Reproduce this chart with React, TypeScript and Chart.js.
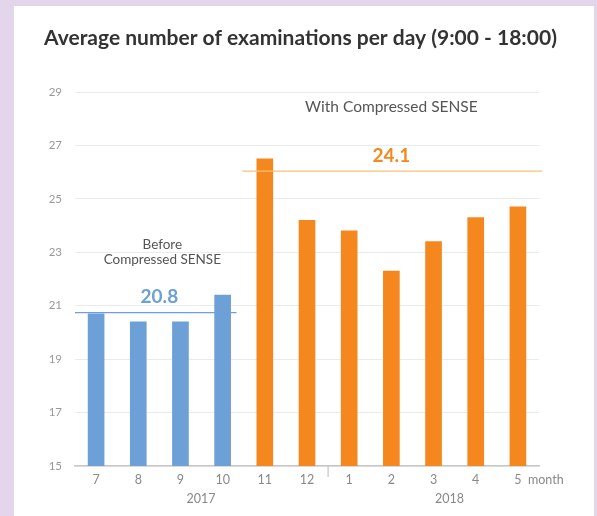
import React, { useEffect, useRef } from "react";
import { Chart, registerables } from "chart.js";

Chart.register(...registerables);

const months = ["7", "8", "9", "10", "11", "12", "1", "2", "3", "4", "5"];
const examsPerDay = [20.7, 20.4, 20.4, 21.4, 26.5, 24.2, 23.8, 22.3, 23.4, 24.3, 24.7];
const isBefore = [true, true, true, true, false, false, false, false, false, false, false];
const avgBefore = 20.8;
const avgAfter = 24.1;
const yTicks = [15, 17, 19, 21, 23, 25, 27, 29];
const years = ["2017", "2018"];

const TITLE = "Average number of examinations per day (9:00 - 18:00)";
const BLUE = "#6ca0d6";
const ORANGE = "#f5871f";
const FONT = "Lato, 'Open Sans', sans-serif";

const decorPlugin = {
  id: "decor",
  beforeDraw(chart: any) {
    const { ctx, width, height } = chart;
    ctx.save();
    ctx.fillStyle = "#e4d6ea";
    ctx.fillRect(0, 0, width, height);
    ctx.fillStyle = "#ffffff";
    ctx.fillRect(14, 6, 580, height - 6);
    ctx.restore();
  },
  afterDraw(chart: any) {
    const { ctx, chartArea } = chart;
    const x = chart.scales.x;
    const y = chart.scales.y;
    const px = (i: number) => x.getPixelForValue(0) + i * (x.getPixelForValue(1) - x.getPixelForValue(0));
    ctx.save();
    // title
    ctx.fillStyle = "#333333";
    ctx.font = `bold 21px ${FONT}`;
    ctx.textAlign = "left";
    ctx.textBaseline = "middle";
    ctx.fillText(TITLE, 44, 38);

    // average lines
    ctx.lineWidth = 1.2;
    ctx.strokeStyle = BLUE;
    ctx.beginPath();
    ctx.moveTo(chartArea.left, y.getPixelForValue(avgBefore) + 1.5);
    ctx.lineTo(px(3.33), y.getPixelForValue(avgBefore) + 1.5);
    ctx.stroke();
    ctx.strokeStyle = "#f7c173";
    ctx.beginPath();
    ctx.moveTo(px(3.47), y.getPixelForValue(26.04));
    ctx.lineTo(chartArea.right + 3, y.getPixelForValue(26.04));
    ctx.stroke();

    // average labels
    ctx.textAlign = "center";
    ctx.font = `bold 19px ${FONT}`;
    ctx.fillStyle = BLUE;
    ctx.fillText(avgBefore.toFixed(1), px(1.5), y.getPixelForValue(21.33));
    ctx.fillStyle = ORANGE;
    ctx.fillText(avgAfter.toFixed(1), px(7.0), y.getPixelForValue(26.6));

    // annotations
    ctx.fillStyle = "#555555";
    ctx.font = `13.5px ${FONT}`;
    ctx.fillText("Before", px(1.57), y.getPixelForValue(23.27));
    ctx.fillText("Compressed SENSE", px(1.57), y.getPixelForValue(22.71));
    ctx.font = `15.5px ${FONT}`;
    ctx.fillText("With Compressed SENSE", px(7.0), y.getPixelForValue(28.44));

    // year divider
    ctx.strokeStyle = "#bbbbbb";
    ctx.lineWidth = 1;
    ctx.beginPath();
    ctx.moveTo(px(5.5), chartArea.bottom);
    ctx.lineTo(px(5.5), chartArea.bottom + 11);
    ctx.stroke();

    // years + month label
    ctx.fillStyle = "#888888";
    ctx.font = `12.5px ${FONT}`;
    ctx.fillText(years[0], px(2.49), chartArea.bottom + 33);
    ctx.fillText(years[1], px(8.38), chartArea.bottom + 33);
    ctx.textAlign = "left";
    ctx.fillText("month", chartArea.right - 11, chartArea.bottom + 14);
    ctx.restore();
  },
};

export default function App() {
  const ref = useRef<HTMLCanvasElement>(null);
  useEffect(() => {
    document.body.style.margin = "0";
    const chart = new Chart(ref.current!, {
      type: "bar",
      data: {
        labels: months,
        datasets: [
          {
            data: examsPerDay,
            backgroundColor: isBefore.map((b) => (b ? BLUE : ORANGE)),
            barThickness: 16,
          },
        ],
      },
      options: {
        animation: false,
        responsive: false,
        layout: { padding: { left: 0, top: 92, right: 58, bottom: 0 } },
        plugins: { legend: { display: false }, tooltip: { enabled: false } },
        scales: {
          x: {
            grid: { display: false },
            border: { display: true, color: "#c8c8c8", width: 1.5 },
            ticks: { color: "#888888", font: { family: FONT, size: 12.5 }, padding: -2 },
            afterFit: (s: any) => {
              s.height = 50;
            },
          },
          y: {
            min: 15,
            max: 29,
            afterBuildTicks: (s: any) => {
              s.ticks = yTicks.map((v) => ({ value: v }));
            },
            grid: { color: "#ebebeb", drawTicks: false, lineWidth: 1 },
            border: { display: false },
            ticks: { color: "#999999", font: { family: FONT, size: 11.5 }, padding: 13 },
            afterFit: (s: any) => {
              s.width = 75;
            },
          },
        },
      },
      plugins: [decorPlugin],
    });
    return () => chart.destroy();
  }, []);
  return <canvas ref={ref} width={597} height={516} style={{ display: "block" }} />;
}
